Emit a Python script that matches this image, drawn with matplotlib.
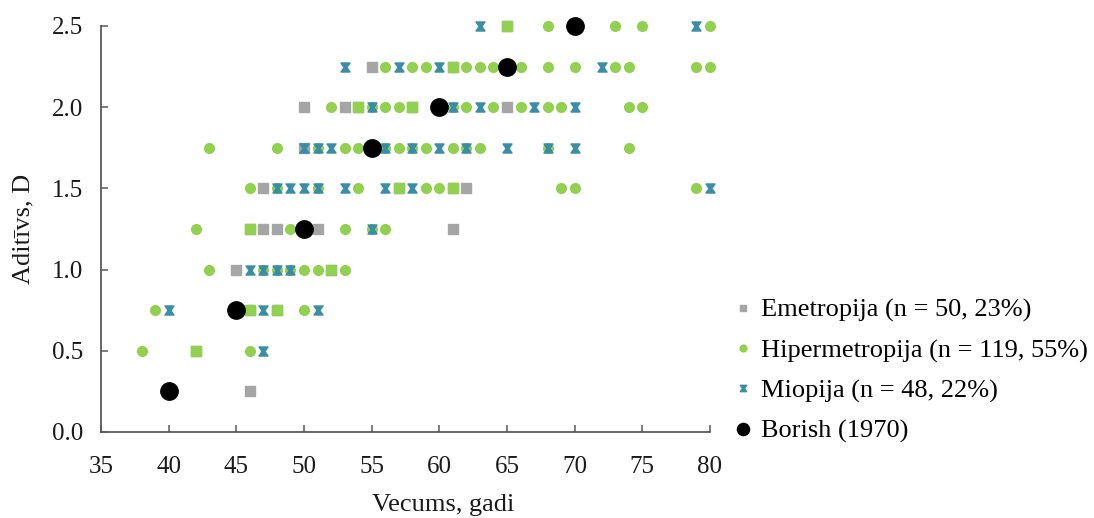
import matplotlib
matplotlib.use("Agg")
import matplotlib.pyplot as plt
from matplotlib.path import Path

# Aditīvs (D) -> vecumi (gadi) katrai grupai, nolasīts no attēla
emetropija = {
    0.25: [46],
    0.50: [42],
    0.75: [46, 48],
    1.00: [45, 52],
    1.25: [46, 47, 48, 51, 61],
    1.50: [47, 57, 61, 62],
    1.75: [50],
    2.00: [50, 53, 54, 58, 65],
    2.25: [55, 61],
    2.50: [65],
}
hipermetropija = {
    0.50: [38, 42, 46],
    0.75: [39, 46, 48, 50],
    1.00: [43, 47, 48, 49, 50, 51, 52, 53],
    1.25: [42, 46, 49, 53, 55, 56],
    1.50: [46, 48, 51, 54, 57, 59, 60, 61, 69, 70, 79],
    1.75: [43, 48, 51, 53, 54, 56, 57, 58, 59, 61, 62, 63, 68, 74],
    2.00: [52, 54, 55, 56, 57, 58, 61, 62, 64, 66, 68, 69, 74, 75],
    2.25: [56, 58, 59, 61, 62, 63, 64, 66, 68, 70, 73, 74, 79, 80],
    2.50: [65, 68, 73, 75, 80],
}
miopija = {
    0.50: [47],
    0.75: [40, 47, 51],
    1.00: [46, 47, 48, 49],
    1.25: [55],
    1.50: [48, 49, 50, 51, 53, 56, 58, 80],
    1.75: [50, 51, 52, 56, 58, 60, 62, 65, 68, 70],
    2.00: [55, 61, 63, 67, 70],
    2.25: [53, 57, 60, 72],
    2.50: [63, 79],
}
borish_vec = [40, 45, 50, 55, 60, 65, 70]
borish_adit = [0.25, 0.75, 1.25, 1.75, 2.00, 2.25, 2.50]

labels = ["Emetropija (n = 50, 23%)", "Hipermetropija (n = 119, 55%)",
          "Miopija (n = 48, 22%)", "Borish (1970)"]
x_ticks = [35, 40, 45, 50, 55, 60, 65, 70, 75, 80]
y_ticks = [0.0, 0.5, 1.0, 1.5, 2.0, 2.5]


def flatten(d):
    xs, ys = [], []
    for y, ages in d.items():
        for a in ages:
            xs.append(a)
            ys.append(y)
    return xs, ys


ex, ey = flatten(emetropija)
hx, hy = flatten(hipermetropija)
mx, my = flatten(miopija)
# punkti, kur emetropija sakrīt ar hipermetropiju -> zaļš kvadrāts
hset = set(zip(hx, hy))
ox = [x for x, y in zip(ex, ey) if (x, y) in hset]
oy = [y for x, y in zip(ex, ey) if (x, y) in hset]

GRAY = "#A5A5A5"
GREEN = "#92D050"
TEAL = "#3A8DA6"
AXIS = "#595959"
TXT = "#1a1a1a"

bowtie = Path([(-1, 1), (1, 1), (0.3, 0), (1, -1), (-1, -1), (-0.3, 0), (-1, 1)],
              [Path.MOVETO, Path.LINETO, Path.LINETO, Path.LINETO,
               Path.LINETO, Path.LINETO, Path.CLOSEPOLY])

plt.rcParams["font.family"] = ["Liberation Serif", "DejaVu Serif"]

fig = plt.figure(figsize=(10.94, 5.18), dpi=100)
ax = fig.add_axes([101 / 1094, 1 - 432 / 518, 609 / 1094, 406 / 518])

ax.plot(ex, ey, "s", color=GRAY, ms=6.5, ls="none", clip_on=False, label=labels[0])
ax.plot(ox, oy, "s", color=GREEN, ms=6.5, ls="none", clip_on=False)
ax.plot(hx, hy, "o", color=GREEN, ms=7, ls="none", clip_on=False, label=labels[1])
ax.plot(mx, my, marker=bowtie, color=TEAL, ms=6.5, ls="none", clip_on=False,
        label=labels[2])
ax.plot(borish_vec, borish_adit, "o", color="black", ms=12.5, ls="none",
        clip_on=False, label=labels[3])

ax.set_xlim(35, 80)
ax.set_ylim(0, 2.5)
ax.set_xticks(x_ticks)
ax.set_yticks(y_ticks)
ax.set_yticklabels([f"{v:.1f}" for v in y_ticks])

for s in ["top", "right"]:
    ax.spines[s].set_visible(False)
for s in ["left", "bottom"]:
    ax.spines[s].set_color(AXIS)
    ax.spines[s].set_linewidth(1.3)

ax.tick_params(axis="both", direction="in", length=5, width=1.1, color=AXIS,
               labelsize=18, labelcolor=TXT)
ax.tick_params(axis="y", pad=13)
ax.tick_params(axis="x", pad=17)

ax.set_xlabel("Vecums, gadi", fontsize=19, color=TXT)
ax.set_ylabel("Aditīvs, D", fontsize=19, color=TXT)
ax.xaxis.set_label_coords(0.562, -0.152)
ax.yaxis.set_label_coords(-0.11, 0.5)

ax.legend(loc="center left", bbox_to_anchor=(0.655, 0.284),
          bbox_transform=fig.transFigure, frameon=False, fontsize=19,
          markerscale=0.7, handlelength=1.0, handletextpad=0.2,
          labelspacing=0.62, borderpad=0)

fig.savefig("out.png", dpi=100)
